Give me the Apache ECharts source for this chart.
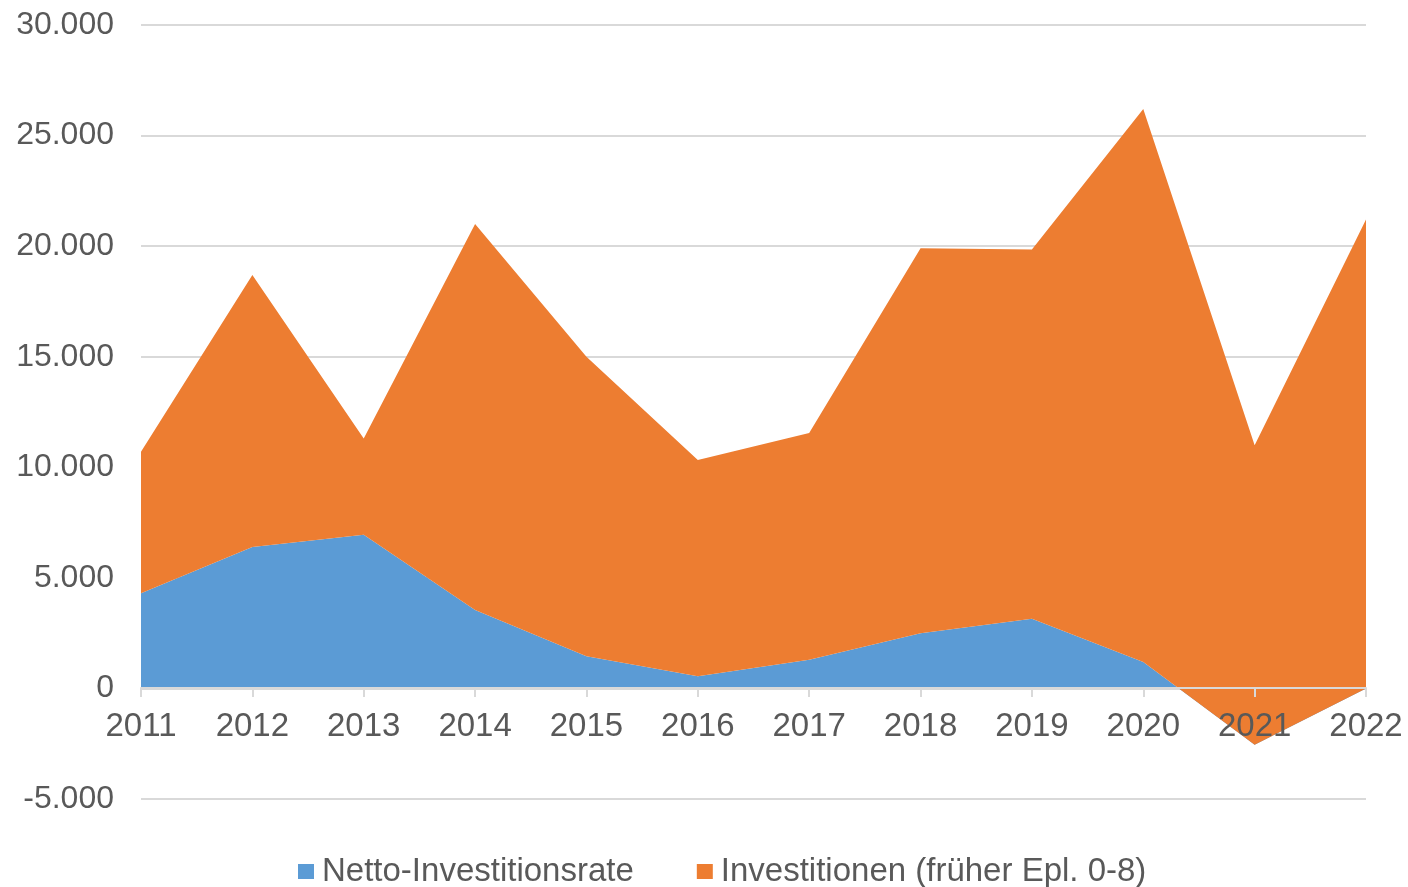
<!DOCTYPE html>
<html>
<head>
<meta charset="utf-8">
<script src="https://cdn.jsdelivr.net/npm/echarts@6/dist/echarts.min.js"></script>
<style>
html,body{margin:0;padding:0;background:#fff;}
#chart{width:1408px;height:887px;}
</style>
</head>
<body>
<div id="chart"></div>
<script>
const years = ['2011','2012','2013','2014','2015','2016','2017','2018','2019','2020','2021','2022'];
const nettoInvestitionsrate = [4300, 6400, 6950, 3550, 1450, 550, 1300, 2500, 3150, 1200, -2550, 0];
const investitionen = [6400, 12300, 4350, 17450, 13550, 9780, 10250, 17400, 16700, 25000, 13550, 21200];
const seriesNames = ['Netto-Investitionsrate', 'Investitionen (früher Epl. 0-8)'];

function fmt(v) {
  const s = String(Math.abs(v)).replace(/\B(?=(\d{3})+(?!\d))/g, '.');
  return (v < 0 ? '-' : '') + s;
}

const yMin = -5000, yMax = 30000;
const gridTop = 25, gridBottom = 88, chartH = 887;
const plotH = chartH - gridTop - gridBottom;
// move the category axis up to the zero line
const zeroOffset = -Math.round(plotH * (0 - yMin) / (yMax - yMin));

const chart = echarts.init(document.getElementById('chart'), null, {renderer: 'canvas'});
const font = "'Liberation Sans', Arial, sans-serif";
chart.setOption({
  animation: false,
  color: ['#5b9bd5', '#ed7d31'],
  grid: {left: 141, right: 42, top: gridTop, bottom: gridBottom},
  legend: {
    top: 850,
    left: 293,
    itemWidth: 16,
    itemHeight: 15,
    itemGap: 63,
    icon: 'rect',
    textStyle: {color: '#595959', fontSize: 33, fontFamily: font, padding: [0, 0, 0, 3]},
    data: seriesNames
  },
  xAxis: {
    type: 'category',
    data: years,
    boundaryGap: false,
    z: 5,
    offset: zeroOffset,
    axisLine: {onZero: false, lineStyle: {color: '#d9d9d9', width: 2}},
    axisTick: {show: true, length: 9, lineStyle: {color: '#d9d9d9', width: 2}},
    axisLabel: {color: '#595959', fontSize: 33, fontFamily: font, margin: 22},
    splitLine: {show: false}
  },
  yAxis: {
    type: 'value',
    min: yMin,
    max: yMax,
    interval: 5000,
    axisLine: {show: false},
    axisTick: {show: false},
    axisLabel: {color: '#595959', fontSize: 32, fontFamily: font, margin: 27, formatter: fmt},
    splitLine: {lineStyle: {color: '#d9d9d9', width: 2}}
  },
  series: [
    {
      name: seriesNames[0],
      type: 'line',
      stack: 'total',
      stackStrategy: 'all',
      data: nettoInvestitionsrate,
      showSymbol: false,
      symbol: 'none',
      lineStyle: {width: 0},
      areaStyle: {opacity: 1, color: '#5b9bd5'}
    },
    {
      name: seriesNames[1],
      type: 'line',
      stack: 'total',
      stackStrategy: 'all',
      data: investitionen,
      showSymbol: false,
      symbol: 'none',
      lineStyle: {width: 0},
      areaStyle: {opacity: 1, color: '#ed7d31'}
    }
  ]
});
</script>
</body>
</html>
